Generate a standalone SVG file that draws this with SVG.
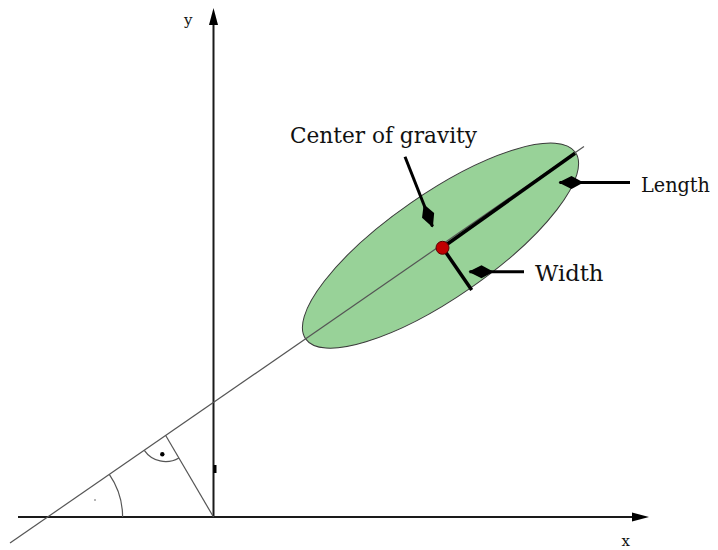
<svg xmlns="http://www.w3.org/2000/svg" width="718" height="550" viewBox="0 0 718 550">
<style>
.axis{stroke:#1a1a1a;stroke-width:2;fill:none}
.thin{stroke:#555;stroke-width:1.2;fill:none}
.thick{stroke:#000;stroke-width:3.5;stroke-linecap:butt;fill:none}
.ptr{stroke:#000;stroke-width:3;fill:none;marker-end:url(#kite)}
</style>
<defs>
<marker id="kite" markerUnits="userSpaceOnUse" refX="0" refY="0" markerWidth="30" markerHeight="14" orient="auto" overflow="visible">
<path d="M1,0 L-12,-6.5 L-24,0 L-12,6.5 Z" fill="#000"/>
</marker>
</defs>
<rect width="718" height="550" fill="#fff"/>
<g id="ellipse-node">
<ellipse cx="440.5" cy="245.6" rx="164" ry="52" transform="rotate(-34.66 440.5 245.6)" fill="#98d298" stroke="#3a3a3a" stroke-width="1"/>
</g>
<g id="connectors">
<line class="axis" x1="18" y1="517" x2="636" y2="517"/>
<polygon points="649,517 632,512.5 632,521.5" fill="#000"/>
<line class="axis" x1="213.5" y1="518" x2="213.5" y2="22"/>
<polygon points="213.5,8 209,25 218,25" fill="#000"/>
<line x1="215" y1="465" x2="215" y2="473" stroke="#000" stroke-width="3"/>
<line class="thin" x1="10" y1="543" x2="584" y2="146.4"/>
<line class="thin" x1="213.5" y1="517" x2="165.7" y2="435.5"/>
<path class="thin" d="M122.6,517 A75,75 0 0 0 109.3,474.3"/>
<circle cx="95" cy="500" r="0.7" fill="#333"/>
<path class="thin" d="M144.3,450.3 A26,26 0 0 0 178.9,457.9"/>
<circle cx="162.3" cy="454.3" r="2.2" fill="#000"/>
<line class="thick" x1="442.5" y1="247.5" x2="575" y2="153.3"/>
<line class="thick" x1="442.5" y1="247.5" x2="471.7" y2="290"/>
<line class="ptr" x1="405" y1="156.7" x2="432.5" y2="226.5"/>
<line class="ptr" x1="630" y1="182.5" x2="559.5" y2="182.5"/>
<line class="ptr" x1="524" y1="271.7" x2="469.5" y2="271.7"/>
</g>
<g id="center-node">
<circle cx="442.5" cy="247.8" r="6.5" fill="#c00000" stroke="#5a0000" stroke-width="1"/>
</g>
<g id="labels" font-family="'DejaVu Serif', 'Liberation Serif', serif" fill="#111">
<text x="290" y="143.3" font-size="22" textLength="187" lengthAdjust="spacingAndGlyphs">Center of gravity</text>
<text x="641" y="191.7" font-size="21" textLength="69" lengthAdjust="spacingAndGlyphs">Length</text>
<text x="535" y="281" font-size="22" textLength="68.5" lengthAdjust="spacingAndGlyphs">Width</text>
<text x="184" y="25" font-size="15">y</text>
<text x="621.5" y="546" font-size="15">x</text>
</g>
</svg>
